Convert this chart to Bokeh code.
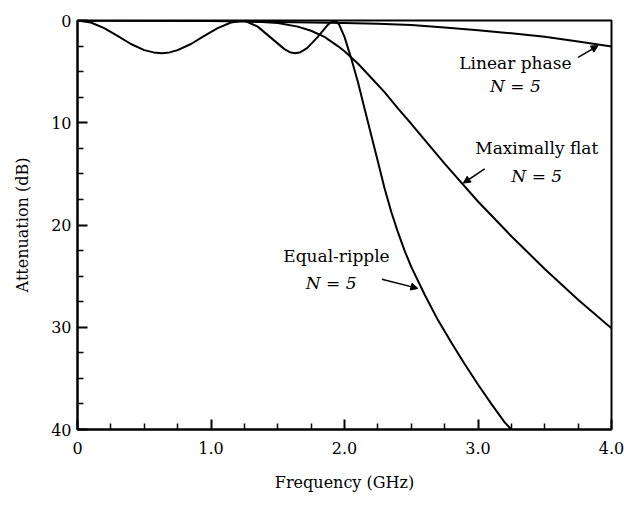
from bokeh.plotting import figure
from bokeh.models import Range1d, FixedTicker, Label, Arrow, NormalHead
from bokeh.embed import file_html
from bokeh.resources import INLINE

# ---- data ----
freq_mf = [0, 0.5, 1.0, 1.25, 1.5, 1.65, 1.75, 1.85, 1.95, 2.0, 2.1, 2.2, 2.3, 2.4, 2.5,
           2.75, 3.0, 3.25, 3.5, 3.75, 4.0]
att_mf = [0, 0, 0.01, 0.05, 0.25, 0.6, 1.0, 1.6, 2.5, 3.0, 4.2, 5.6, 7.0, 8.6, 10.1,
          14.0, 17.7, 21.1, 24.3, 27.3, 30.1]

freq_er = [0, 0.1, 0.2, 0.3, 0.4, 0.5, 0.57, 0.63, 0.69, 0.75, 0.85, 0.95, 1.05, 1.15,
           1.25, 1.35, 1.45, 1.55, 1.59, 1.63, 1.67, 1.72, 1.8, 1.87, 1.9, 1.93, 1.96,
           2.0, 2.05, 2.1, 2.15, 2.2, 2.25, 2.3, 2.35, 2.4, 2.45, 2.5, 2.6, 2.7, 2.8,
           2.9, 3.0, 3.1, 3.2, 3.25]
att_er = [0, 0.2, 0.75, 1.5, 2.3, 2.9, 3.12, 3.2, 3.12, 2.9, 2.3, 1.5, 0.75, 0.2,
          0, 0.6, 1.7, 2.8, 3.1, 3.2, 3.1, 2.7, 1.6, 0.5, 0.15, 0, 0.4,
          1.6, 3.7, 6.0, 8.6, 11.2, 13.8, 16.4, 18.7, 20.7, 22.5, 24.1, 26.8, 29.3, 31.5,
          33.6, 35.6, 37.5, 39.3, 40.0]

freq_lp = [0, 0.5, 1.0, 1.5, 2.0, 2.25, 2.5, 2.75, 3.0, 3.25, 3.5, 3.75, 4.0]
att_lp = [0, 0.02, 0.06, 0.14, 0.25, 0.33, 0.45, 0.68, 0.95, 1.25, 1.6, 2.05, 2.55]

x_ticks = [0, 1, 2, 3, 4]
x_tick_labels = ["0", "1.0", "2.0", "3.0", "4.0"]
x_minor = [0.25, 0.5, 0.75, 1.25, 1.5, 1.75, 2.25, 2.5, 2.75, 3.25, 3.5, 3.75]
y_ticks = [0, 10, 20, 30, 40]
y_tick_labels = ["0", "10", "20", "30", "40"]
y_minor = [2.5, 5, 7.5, 12.5, 15, 17.5, 22.5, 25, 27.5, 32.5, 35, 37.5]

FONT = "DejaVu Serif"

p = figure(width=624, height=500, output_backend="svg", toolbar_location=None,
           x_range=Range1d(0, 4), y_range=Range1d(40, 0),
           min_border_left=77, min_border_right=13, min_border_top=20, min_border_bottom=71)
p.xgrid.visible = False
p.ygrid.visible = False
p.outline_line_color = "black"
p.outline_line_width = 2
p.background_fill_color = "white"
p.border_fill_color = "white"

for ax in (p.xaxis[0], p.yaxis[0]):
    ax.axis_line_color = "black"
    ax.axis_line_width = 2
    ax.major_tick_in = 10
    ax.major_tick_out = 0
    ax.minor_tick_in = 6
    ax.minor_tick_out = 0
    ax.major_tick_line_width = 2
    ax.minor_tick_line_width = 1.5
    ax.major_tick_line_color = "black"
    ax.minor_tick_line_color = "black"
    ax.major_label_text_font = FONT
    ax.major_label_text_font_size = "16px"
    ax.major_label_text_color = "black"
    ax.axis_label_text_font = FONT
    ax.axis_label_text_font_size = "16px"
    ax.axis_label_text_font_style = "normal"
    ax.axis_label_text_color = "black"

p.xaxis[0].ticker = FixedTicker(ticks=x_ticks, minor_ticks=x_minor)
p.yaxis[0].ticker = FixedTicker(ticks=y_ticks, minor_ticks=y_minor)
p.xaxis[0].major_label_overrides = {float(t): s for t, s in zip(x_ticks, x_tick_labels)}
p.yaxis[0].major_label_overrides = {float(t): s for t, s in zip(y_ticks, y_tick_labels)}
p.xaxis[0].major_label_standoff = 12
p.yaxis[0].major_label_standoff = 6
p.xaxis[0].axis_label = "Frequency (GHz)"
p.yaxis[0].axis_label = "Attenuation (dB)"
p.xaxis[0].axis_label_standoff = 16
p.yaxis[0].axis_label_standoff = 16

p.line(freq_lp, att_lp, line_color="black", line_width=2)
p.line(freq_mf, att_mf, line_color="black", line_width=2)
p.line(freq_er, att_er, line_color="black", line_width=2)

def lab(x, y, t, italic=False):
    p.add_layout(Label(x=x, y=y, text=t, text_font=FONT, text_font_size="17px",
                       text_font_style="italic" if italic else "normal",
                       text_align="center", text_baseline="middle", text_color="black"))

lab(3.28, 4.2, "Linear phase")
lab(3.28, 6.4, "N = 5", True)
lab(3.44, 12.5, "Maximally flat")
lab(3.44, 15.2, "N = 5", True)
lab(1.94, 23.0, "Equal-ripple")
lab(1.90, 25.7, "N = 5", True)

for xs, ys, xe, ye in [(3.75, 3.6, 3.9, 2.45), (3.05, 14.5, 2.89, 15.9), (2.28, 25.3, 2.55, 26.2)]:
    p.add_layout(Arrow(end=NormalHead(size=7, fill_color="black", line_color="black", line_width=1),
                       x_start=xs, y_start=ys, x_end=xe, y_end=ye,
                       line_color="black", line_width=1.5))

open("out.html", "w").write(file_html(p, INLINE))
